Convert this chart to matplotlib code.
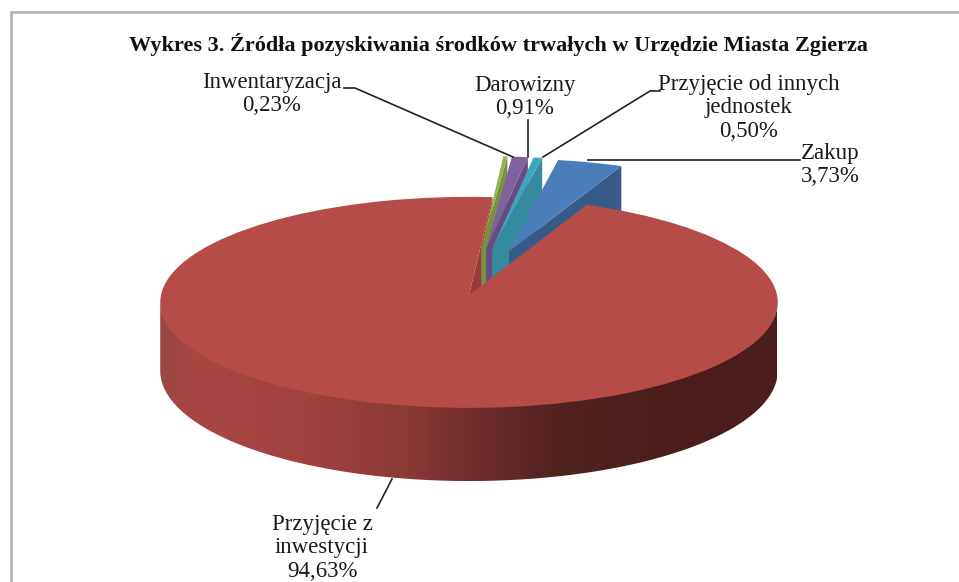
import numpy as np
import matplotlib
matplotlib.use("Agg")
import matplotlib.pyplot as plt
from matplotlib.transforms import Transform
from matplotlib.path import Path
from matplotlib.patches import Polygon
from matplotlib.colors import LinearSegmentedColormap

plt.rcParams['font.family'] = ['Liberation Serif', 'DejaVu Serif']

title = "Wykres 3. Źródła pozyskiwania środków trwałych w Urzędzie Miasta Zgierza"
categories = ["Zakup", "Przyjęcie z\ninwestycji", "Inwentaryzacja", "Darowizny",
              "Przyjęcie od innych\njednostek"]
shares = [3.73, 94.63, 0.23, 0.91, 0.50]
share_labels = ["3,73%", "94,63%", "0,23%", "0,91%", "0,50%"]
explode = [0.45, 0.0, 0.46, 0.46, 0.46]
top_colors = ["#4A7EBB", "#B64C48", "#94B254", "#7F619F", "#41A4BD"]
wall_colors = ["#375B88", "#963C39", "#77913F", "#664D80", "#348A9F"]

CX, CY, RX, RY, K, DEPTH = 469, 295, 308, 105, 0.07, 68


def project(u, v):
    s = 1 / (1 + K * np.asarray(v, float))
    return CX + RX * np.asarray(u, float) * s, CY - RY * np.asarray(v, float) * s, s


class Perspective(Transform):
    input_dims = output_dims = 2
    is_affine = False
    has_inverse = False

    def transform_non_affine(self, values):
        values = np.asarray(values, float)
        x, y, _ = project(values[:, 0], values[:, 1])
        return np.column_stack([x, y])

    def transform_path_non_affine(self, path):
        return Path(self.transform_non_affine(path.vertices), path.codes)


fig = plt.figure(figsize=(9.59, 5.82), dpi=100, facecolor="white")
ax = fig.add_axes([0, 0, 1, 1])

wedges, _ = ax.pie(shares, explode=explode, startangle=79.4, counterclock=False,
                   colors=top_colors, radius=1, wedgeprops=dict(linewidth=0))
ax.set_aspect("auto")
ax.set_xlim(0, 959)
ax.set_ylim(582, 0)
ax.axis("off")
persp = Perspective() + ax.transData


def add_wall(wedge, color, z):
    a, b = wedge.center
    th = np.deg2rad(wedge.theta1)
    pu, pv = a + wedge.r * np.cos(th), b + wedge.r * np.sin(th)
    x0, y0, s0 = project(a, b)
    x1, y1, s1 = project(pu, pv)
    ax.add_patch(Polygon([(x0, y0), (x1, y1), (x1, y1 + DEPTH * s1), (x0, y0 + DEPTH * s0)],
                         closed=True, fc=color, ec="none", zorder=z))


RED = 1
order = [RED, 2, 3, 4, 0]  # back to front
add_wall(wedges[RED], wall_colors[RED], 1)
z = 2
for i in order[1:]:
    add_wall(wedges[i], wall_colors[i], z)
    wedges[i].set_transform(persp)
    wedges[i].set_zorder(z + 0.5)
    z += 1

# front rim of the large slice with its horizontal shading
ang = np.deg2rad(np.linspace(184, 356, 400))
ux, uy = np.cos(ang), np.sin(ang)
tx, ty, ts = project(ux, uy)
rim = np.vstack([np.column_stack([tx, ty - 1]),
                 np.column_stack([tx, ty + DEPTH * ts])[::-1]])
cmap = LinearSegmentedColormap.from_list("rim", [
    (0.00, "#9A4642"), (0.06, "#A84642"), (0.23, "#A2423F"), (0.39, "#8E3A38"),
    (0.47, "#7A3030"), (0.65, "#502220"), (0.88, "#4A1D1C"), (1.00, "#4C1E1C")])
grad = np.linspace(0, 1, 512).reshape(1, -1)
im = ax.imshow(grad, cmap=cmap, extent=(160, 777, 490, 280), aspect="auto", zorder=10,
               interpolation="bilinear")
clip = Polygon(rim, closed=True, transform=ax.transData, fc="none", ec="none")
ax.add_patch(clip)
im.set_clip_path(clip)
ax.set_xlim(0, 959)
ax.set_ylim(582, 0)

wedges[RED].set_transform(persp)
wedges[RED].set_zorder(11)
for w in wedges:
    w.set_clip_on(False)

# chart frame
for xs, ys in [((11, 11), (11, 582)), ((10, 959), (12, 12))]:
    ax.plot(xs, ys, color="#B4B4B4", lw=2.0, zorder=0, solid_capstyle="butt")

ax.text(498, 44, title, ha="center", va="center", fontsize=16, fontweight="bold", color="#111111")

FS = 16.5
label_pos = {0: (830, 165), 1: (322, 548), 2: (272, 94), 3: (525, 97), 4: (749, 108)}
for i, (x, y) in label_pos.items():
    ax.text(x, y, categories[i] + "\n" + share_labels[i], ha="center", va="center",
            fontsize=FS, linespacing=1.18, color="#1A1A1A", zorder=20)

leaders = [
    ((344, 355, 513), (88, 88, 157)),
    ((528, 528), (120, 157)),
    ((660, 650, 543), (91, 91, 157)),
    ((800, 588), (160, 160)),
    ((392, 377), (479, 508)),
]
for xs, ys in leaders:
    ax.plot(xs, ys, color="#222222", lw=1.2, zorder=15)

fig.savefig("out.png", dpi=100)
